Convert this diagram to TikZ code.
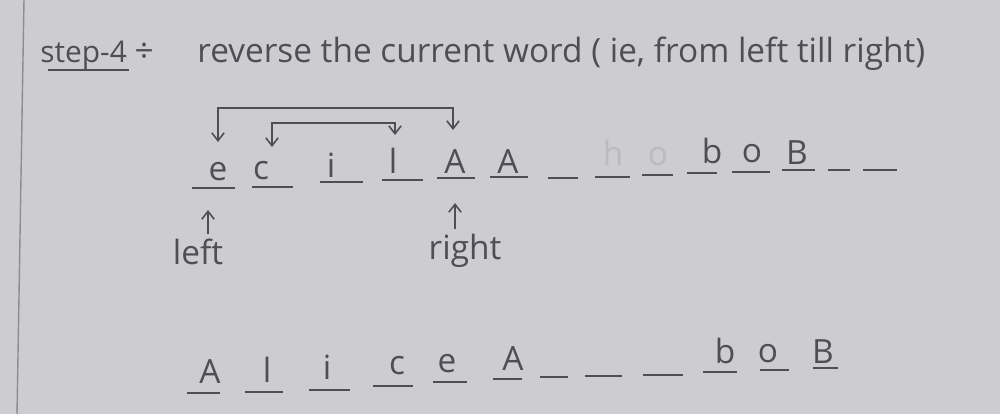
\documentclass[tikz,border=0pt]{standalone}
\usepackage{fontspec}
\setmainfont{Open Sans}
\usetikzlibrary{calc,positioning,arrows.meta}
\definecolor{paper}{RGB}{204,204,209}
\definecolor{pencil}{RGB}{78,78,84}
\definecolor{faded}{RGB}{186,186,191}
\definecolor{margin}{RGB}{140,140,146}
\tikzstyle{every picture}=[>={Straight Barb[length=4.5pt,width=7pt]}]
\tikzstyle{letter}=[inner sep=0pt,anchor=base,text=pencil,font=\fontsize{19}{22}\selectfont]
\tikzstyle{slot}=[draw=pencil,line width=1.1pt]
\tikzstyle{pointer}=[draw=pencil,line width=0.9pt]

\begin{document}
\begin{tikzpicture}[x=0.02cm,y=-0.02cm]
    \useasboundingbox (0,0) rectangle (1000,414);
    % paper and margin line
    \fill[paper] (0,0) rectangle (1000,414);
    \draw[margin,line width=0.8pt] (24,0) -- (17,414);
    % heading
    \node[letter,anchor=base west,font=\fontsize{17}{20}\selectfont] (stepno) at (40,62) {step-4};
    \node[letter,base right=4pt of stepno] (colon) {÷};
    \draw[pointer] ($(stepno.base west)+(8,8)$) -- ($(stepno.base east)+(2,8)$);
    \node[letter,anchor=base west] (task) at (197,62) {reverse the current word ( ie, from left till right)};
    % word before the swap
    \node[letter] (t1) at (218,180) {e};
    \node[letter] (t2) at (261,179) {c};
    \node[letter] (t3) at (331,177) {i};
    \node[letter] (t4) at (393,173) {l};
    \node[letter] (t5) at (455,173) {A};
    \node[letter] (t6) at (508,173) {A};
    \node[letter,text=faded] (t8) at (613,165) {h};
    \node[letter,text=faded] (t9) at (658,165) {o};
    \node[letter] (t10) at (712,163) {b};
    \node[letter] (t11) at (752,162) {o};
    \node[letter] (t12) at (797,164) {B};
    % blanks under the first row
    \draw[slot] (192,188) -- (235,188);
    \draw[slot] (252,187) -- (293,187);
    \draw[slot] (320,182) -- (363,182);
    \draw[slot] (382,180) -- (423,180);
    \draw[slot] (437,178) -- (475,178);
    \draw[slot] (490,177) -- (528,177);
    \draw[slot] (548,178) -- (578,178);
    \draw[slot] (595,177) -- (630,177);
    \draw[slot] (642,175) -- (673,175);
    \draw[slot] (687,173) -- (717,173);
    \draw[slot] (732,172) -- (770,172);
    \draw[slot] (782,170) -- (815,170);
    \draw[slot] (828,170) -- (850,170);
    \draw[slot] (863,170) -- (897,170);
    % swap brackets
    \coordinate (outer) at (0,108);
    \coordinate (inner) at (0,123);
    \coordinate (eTip) at ($(t1.base)+(0,-38)$);
    \coordinate (aTip) at ($(t5.base)+(-2,-43)$);
    \coordinate (cTip) at ($(t2.base)+(11,-32)$);
    \coordinate (lTip) at ($(t4.base)+(2,-38)$);
    \draw[pointer,<->] (eTip) -- (eTip |- outer) -- (aTip |- outer) -- (aTip);
    \draw[pointer,<->] (cTip) -- (cTip |- inner) -- (lTip |- inner) -- (lTip);
    % left and right pointers
    \node[letter] (lft) at (198,264) {left};
    \node[letter] (rgt) at (465,259) {right};
    \draw[pointer,->] ($(lft.base)+(10,-30)$) -- ($(lft.base)+(10,-54)$);
    \draw[pointer,->] ($(rgt.base)+(-10,-30)$) -- ($(rgt.base)+(-10,-56)$);
    % word after the swap
    \node[letter] (r1) at (210,383) {A};
    \node[letter] (r2) at (267,382) {l};
    \node[letter] (r3) at (327,379) {i};
    \node[letter] (r4) at (397,374) {c};
    \node[letter] (r5) at (447,372) {e};
    \node[letter] (r6) at (513,370) {A};
    \node[letter] (r10) at (725,363) {b};
    \node[letter] (r11) at (768,362) {o};
    \node[letter] (r12) at (823,363) {B};
    % blanks under the second row
    \draw[slot] (187,393) -- (220,393);
    \draw[slot] (245,392) -- (283,392);
    \draw[slot] (309,390) -- (350,390);
    \draw[slot] (373,386) -- (413,386);
    \draw[slot] (433,382) -- (467,382);
    \draw[slot] (493,379) -- (522,379);
    \draw[slot] (540,377) -- (568,377);
    \draw[slot] (585,376) -- (622,376);
    \draw[slot] (643,375) -- (683,375);
    \draw[slot] (703,372) -- (737,372);
    \draw[slot] (760,370) -- (789,370);
    \draw[slot] (813,368) -- (838,368);
\end{tikzpicture}
\end{document}
